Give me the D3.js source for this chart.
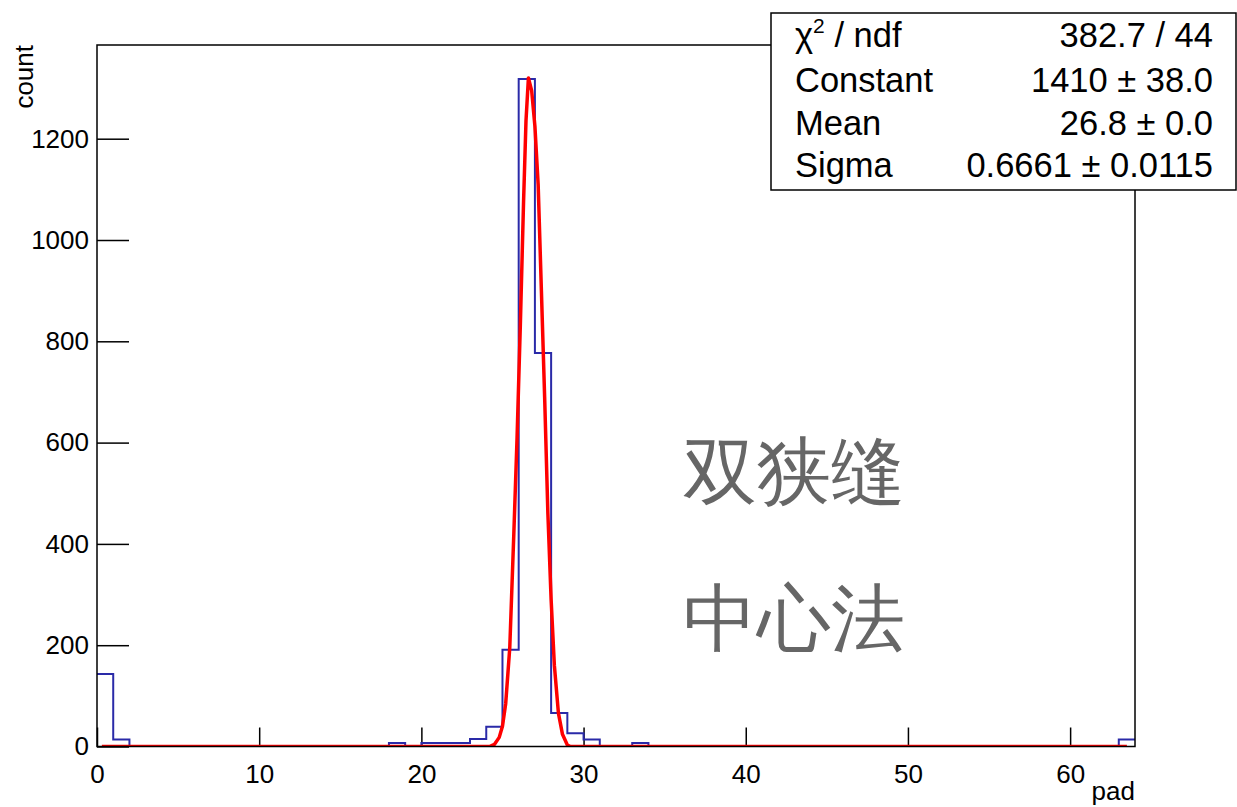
<!DOCTYPE html>
<html>
<head>
<meta charset="utf-8">
<script src="https://cdn.jsdelivr.net/npm/d3@7"></script>
<style>
  html, body { margin: 0; padding: 0; background: #fff; }
  svg { display: block; }
  text { font-family: "Liberation Sans", Arial, sans-serif; }
</style>
</head>
<body>
<svg id="chart" width="1237" height="807"></svg>
<script>
// ---- data ----
const binEdges = [0, 64];            // 64 bins of width 1 on "pad"
const binCounts = [
  143, 14, 0, 0, 0, 0, 0, 0, 0, 0,
  0, 0, 0, 0, 0, 0, 0, 0, 7, 0,
  7, 7, 7, 15, 39, 191, 1318, 777, 66, 26,
  14, 0, 0, 7, 0, 0, 0, 0, 0, 0,
  0, 0, 0, 0, 0, 0, 0, 0, 0, 0,
  0, 0, 0, 0, 0, 0, 0, 0, 0, 0,
  0, 0, 0, 14
];
// fitted gaussian curve as drawn (x, count)
const fitX = [0.3, 24.2, 24.5, 24.8, 25.0, 25.2, 25.45, 25.7, 25.9, 26.1, 26.3, 26.45, 26.6, 26.8, 27.0, 27.2, 27.4, 27.6, 27.8, 28.0, 28.2, 28.45, 28.7, 29.0, 29.2, 63.5];
const fitY = [0, 0, 4, 18, 40, 85, 195, 420, 610, 830, 1075, 1235, 1320, 1295, 1225, 1110, 900, 690, 460, 290, 160, 66, 24, 3, 0, 0];
const xMajorTicks = [0, 10, 20, 30, 40, 50, 60];
const yMajorTicks = [0, 200, 400, 600, 800, 1000, 1200];
const statLabels = ["χ2 / ndf", "Constant", "Mean", "Sigma"];
const statValues = ["382.7 / 44", "1410 ± 38.0", "26.8 ± 0.0", "0.6661 ± 0.0115"];
const noteLines = ["双狭缝", "中心法"];
const xTitle = "pad";
const yTitle = "count";
const yMax = 1385;

// ---- layout ----
const L = 97, R = 1135, T = 45, B = 746.5;
const svg = d3.select("#chart");
const x = d3.scaleLinear().domain(binEdges).range([L, R]);
const y = d3.scaleLinear().domain([0, yMax]).range([B, T]);

svg.append("defs").append("clipPath").attr("id", "plotclip")
  .append("rect").attr("x", L).attr("y", T).attr("width", R - L).attr("height", B - T);

// minor / major ticks
const xMinor = d3.range(0, 65, 2).filter(v => v % 10 !== 0);
const yMinor = d3.range(0, yMax, 50).filter(v => v % 200 !== 0);

const gx = svg.append("g").attr("transform", `translate(0,${B})`);
gx.call(d3.axisBottom(x).tickValues(xMinor).tickSize(-10).tickFormat(""));
gx.call(d3.axisBottom(x).tickValues(xMajorTicks).tickSize(-19).tickPadding(18).tickFormat(d3.format("d")));
const gy = svg.append("g").attr("transform", `translate(${L},0)`);
gy.call(d3.axisLeft(y).tickValues(yMinor).tickSize(-16).tickFormat(""));
gy.call(d3.axisLeft(y).tickValues(yMajorTicks).tickSize(-32).tickPadding(8).tickFormat(d3.format("d")));
svg.selectAll(".domain").remove();
svg.selectAll(".tick line").attr("stroke", "#000").attr("stroke-width", 1.5);
svg.selectAll(".tick text").attr("font-size", 26).attr("fill", "#000")
  .attr("font-family", "Liberation Sans, Arial, sans-serif");

// histogram
const histPts = binCounts.map((c, i) => [i, c]);
histPts.push([binCounts.length, binCounts[binCounts.length - 1]]);
svg.append("path")
  .attr("clip-path", "url(#plotclip)")
  .attr("d", d3.line().x(d => x(d[0])).y(d => y(d[1])).curve(d3.curveStepAfter)(histPts))
  .attr("fill", "none").attr("stroke", "#2a2aa8").attr("stroke-width", 2);

// fit curve
const fitPts = fitX.map((v, i) => [v, fitY[i]]);
svg.append("path")
  .attr("clip-path", "url(#plotclip)")
  .attr("d", d3.line().x(d => x(d[0])).y(d => y(d[1]))(fitPts))
  .attr("fill", "none").attr("stroke", "#ff0000").attr("stroke-width", 3.5)
  .attr("stroke-linejoin", "round");

// frame
svg.append("rect").attr("x", L).attr("y", T).attr("width", R - L).attr("height", B - T)
  .attr("fill", "none").attr("stroke", "#000").attr("stroke-width", 1.5);

// axis titles
svg.append("text").attr("x", R).attr("y", 800).attr("text-anchor", "end")
  .attr("font-size", 26).text(xTitle);
svg.append("text").attr("transform", `translate(33,${T}) rotate(-90)`).attr("text-anchor", "end")
  .attr("font-size", 26).text(yTitle);

// overlay text
const noteY = [497, 644];
noteLines.forEach((t, i) => {
  svg.append("text").attr("x", 683).attr("y", noteY[i])
    .attr("font-family", "Noto Sans CJK SC, sans-serif")
    .attr("font-size", 74).attr("fill", "#666").text(t);
});

// stats box
svg.append("rect").attr("x", 771).attr("y", 13).attr("width", 465).attr("height", 177)
  .attr("fill", "#fff").attr("stroke", "#000").attr("stroke-width", 1.5);
const rowY = [47, 92, 135, 177];
statLabels.forEach((lab, i) => {
  const t = svg.append("text").attr("x", 795).attr("y", rowY[i]).attr("font-size", 34.5).attr("fill", "#000");
  if (i === 0) {
    t.append("tspan").text("χ");
    t.append("tspan").attr("font-size", 21).attr("dy", -14).text("2");
    t.append("tspan").attr("dy", 14).text(" / ndf");
  } else {
    t.text(lab);
  }
  svg.append("text").attr("x", 1213).attr("y", rowY[i]).attr("text-anchor", "end")
    .attr("font-size", 34.5).attr("fill", "#000").text(statValues[i]);
});
</script>
</body>
</html>
